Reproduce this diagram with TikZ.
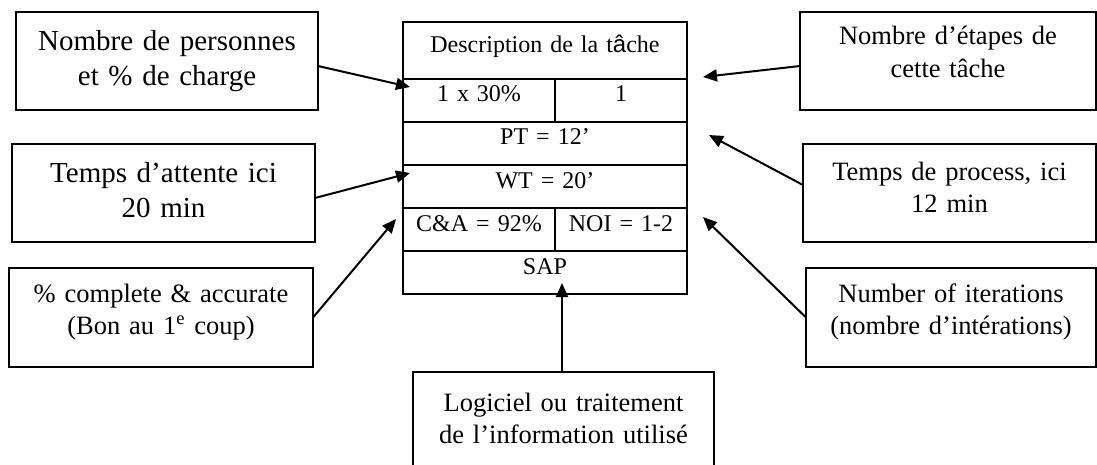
\documentclass[tikz,border=0pt]{standalone}
\usepackage{fontspec}
\setmainfont{Liberation Serif}
\newfontfamily\accfont{Liberation Sans}
\usetikzlibrary{positioning,arrows.meta}

\begin{document}
\begin{tikzpicture}[x=0.5pt, y=-0.5pt,
  note/.style = {draw, line width=1.2pt, inner sep=0pt, outer sep=0pt, align=center, anchor=north west},
  big/.style = {font=\fontsize{14.5}{17.5}\selectfont},
  small/.style = {font=\fontsize{13.25}{16.3}\selectfont},
  cell/.style = {draw, line width=1pt, inner sep=0pt, outer sep=0pt, align=center,
    font=\fontsize{12}{14}\selectfont, text height=11.5pt, text depth=10pt},
  link/.style = {-{Triangle[length=7pt,width=6pt]}, line width=1pt}]
  \useasboundingbox (0,0) rectangle (1097,465);
  \clip (0,0) rectangle (1097,465);

  % the task box
  \node[cell, anchor=north west, text width=142pt, text height=15.5pt, text depth=13pt] (desc) at (403,22)
    {Description de la t{\accfont â}che};
  \node[cell, text width=76pt, below right=0pt and 0pt of desc.south west] (load) {1 x 30\%};
  \node[cell, text width=66pt, right=0pt of load] (nsteps) {1};
  \node[cell, text width=142pt, below right=0pt and 0pt of load.south west] (pt) {PT = 12’};
  \node[cell, text width=142pt, below=0pt of pt] (wt) {WT = 20’};
  \node[cell, text width=76pt, below right=0pt and 0pt of wt.south west] (ca) {C\&A = 92\%};
  \node[cell, text width=66pt, right=0pt of ca] (noi) {NOI = 1-2};
  \node[cell, text width=142pt, below right=0pt and 0pt of ca.south west] (sap) {SAP};

  % notes around it
  \node[note, big, text width=151pt, text height=19.5pt, text depth=29.5pt] (pers) at (16,12)
    {Nombre de personnes\\et \% de charge};
  \node[note, big, text width=151.5pt, text height=19pt, text depth=30pt] (wait) at (12,144)
    {Temps d’attente ici\\20 min};
  \node[note, small, text width=152pt, text height=17pt, text depth=32.5pt] (cna) at (9,268)
    {\% complete \& accurate\\(Bon au 1\textsuperscript{e} coup)};
  \node[note, small, text width=148pt, text height=16.5pt, text depth=32.5pt] (steps) at (800,12)
    {Nombre d’étapes de\\cette tâche};
  \node[note, small, text width=146.5pt, text height=18pt, text depth=31pt] (proc) at (803,144)
    {Temps de process, ici\\12 min};
  \node[note, small, text width=145pt, text height=17pt, text depth=32.5pt] (iter) at (806,268)
    {Number of iterations\\(nombre d’intérations)};
  \node[note, small, text width=150.5pt, text height=19.5pt, text depth=29.5pt] (soft) at (413,372)
    {Logiciel ou traitement\\de l’information utilisé};

  % arrow tips
  \coordinate (t-load) at (410,87);
  \coordinate (t-wt) at (410,173);
  \coordinate (t-ca) at (396,219);
  \coordinate (t-nsteps) at (703,77);
  \coordinate (t-pt) at (709,135);
  \coordinate (t-noi) at (703,217);
  \coordinate (t-sap) at (562,283);

  \draw[link] ([yshift=-2.5pt]pers.east) -- (t-load);
  \draw[link] ([yshift=-2.5pt]wait.east) -- (t-wt);
  \draw[link] (cna.east) -- (t-ca);
  \draw[link] ([yshift=-2.5pt]steps.west) -- (t-nsteps);
  \draw[link] ([yshift=4pt]proc.west) -- (t-pt);
  \draw[link] (iter.west) -- (t-noi);
  \draw[link] (soft.north -| t-sap) -- (t-sap);
\end{tikzpicture}
\end{document}
